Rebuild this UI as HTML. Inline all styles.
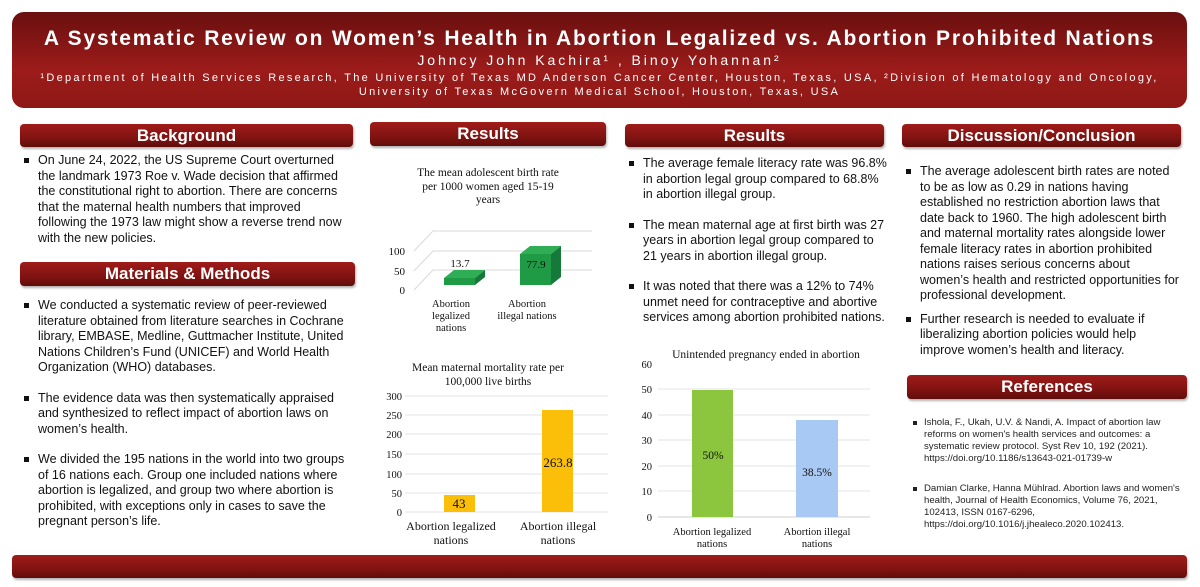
<!DOCTYPE html>
<html><head><meta charset="utf-8"><style>
*{margin:0;padding:0;box-sizing:border-box}
body{width:1200px;height:587px;background:#fff;position:relative;overflow:hidden;font-family:"Liberation Sans",sans-serif;color:#111}
.hdr{position:absolute;left:12px;top:12px;width:1175px;height:96px;border-radius:12px;background:linear-gradient(#6a0f0f,#9c1c1a 60%,#8e1816);color:#fff;text-align:center}
.bar{position:absolute;border-radius:4px;background:linear-gradient(#a01c1a,#7a1210 70%,#5e0c0a);color:#fff;font-weight:bold;font-size:17px;text-align:center;line-height:23px;box-shadow:1px 2px 2px rgba(0,0,0,.3)}
.txt{position:absolute;font-size:12.5px;line-height:15.5px}
.txt p{position:relative;padding-left:0}
.txt p:before{content:"";position:absolute;left:-14px;top:5px;width:5px;height:5px;background:#111}
.ref{position:absolute;font-size:9.6px;line-height:12px;color:#222}
.ref p{position:relative}
.ref p:before{content:"";position:absolute;left:-11px;top:4px;width:4px;height:4px;background:#222}
svg text{font-family:"Liberation Serif",serif;fill:#111}
</style></head><body>
<div class="hdr">
<div style="position:absolute;top:15px;width:100%;font-size:21px;font-weight:bold;letter-spacing:1.8px">A Systematic Review on Women’s Health in Abortion Legalized vs. Abortion Prohibited Nations</div>
<div style="position:absolute;top:40px;width:100%;font-size:14px;letter-spacing:2.95px">Johncy John Kachira¹ , Binoy Yohannan²</div>
<div style="position:absolute;top:59px;width:100%;font-size:11px;letter-spacing:2.3px;line-height:14px">¹Department of Health Services Research, The University of Texas MD Anderson Cancer Center, Houston, Texas, USA, ²Division of Hematology and Oncology,<br>University of Texas McGovern Medical School, Houston, Texas, USA</div>
</div>

<div class="bar" style="left:20px;top:124px;width:333px;height:23px">Background</div>
<div class="bar" style="left:370px;top:122px;width:236px;height:24px">Results</div>
<div class="bar" style="left:625px;top:124px;width:259px;height:23px">Results</div>
<div class="bar" style="left:902px;top:124px;width:279px;height:23px">Discussion/Conclusion</div>
<div class="bar" style="left:20px;top:262px;width:335px;height:24px">Materials &amp; Methods</div>
<div class="bar" style="left:907px;top:375px;width:280px;height:24px">References</div>
<div class="bar" style="left:12px;top:555px;width:1175px;height:23px"></div>

<div class="txt" style="left:38px;top:153px;width:310px">
<p>On June 24, 2022, the US Supreme Court overturned the landmark 1973 Roe v. Wade decision that affirmed the constitutional right to abortion. There are concerns that the maternal health numbers that improved following the 1973 law might show a reverse trend now with the new policies.</p></div>

<div class="txt" style="left:38px;top:298px;width:320px">
<p>We conducted a systematic review of peer-reviewed literature obtained from literature searches in Cochrane library, EMBASE, Medline, Guttmacher Institute, United Nations Children’s Fund (UNICEF) and World Health Organization (WHO) databases.</p>
<p style="margin-top:15px">The evidence data was then systematically appraised and synthesized to reflect impact of abortion laws on women’s health.</p>
<p style="margin-top:15px">We divided the 195 nations in the world into two groups of 16 nations each. Group one included nations where abortion is legalized, and group two where abortion is prohibited, with exceptions only in cases to save the pregnant person’s life.</p></div>

<div class="txt" style="left:643px;top:156px;width:260px;white-space:nowrap">
<p>The average female literacy rate was 96.8%<br>in abortion legal group compared to 68.8%<br>in abortion illegal group.</p>
<p style="margin-top:15px">The mean maternal age at first birth was 27<br>years in abortion legal group compared to<br>21 years in abortion illegal group.</p>
<p style="margin-top:15px">It was noted that there was a 12% to 74%<br>unmet need for contraceptive and abortive<br>services among abortion prohibited nations.</p></div>

<div class="txt" style="left:920px;top:164px;width:262px">
<p>The average adolescent birth rates are noted to be as low as 0.29 in nations having established no restriction abortion laws that date back to 1960. The high adolescent birth and maternal mortality rates alongside lower female literacy rates in abortion prohibited nations raises serious concerns about women’s health and restricted opportunities for professional development.</p>
<p style="margin-top:8px">Further research is needed to evaluate if liberalizing abortion policies would help improve women’s health and literacy.</p></div>

<div class="ref" style="left:924px;top:417px;width:262px">
<p>Ishola, F., Ukah, U.V. &amp; Nandi, A. Impact of abortion law reforms on women's health services and outcomes: a systematic review protocol. Syst Rev 10, 192 (2021). https://doi.org/10.1186/s13643-021-01739-w</p>
<p style="margin-top:18px">Damian Clarke, Hanna Mühlrad. Abortion laws and women's health, Journal of Health Economics, Volume 76, 2021, 102413, ISSN 0167-6296, https://doi.org/10.1016/j.jhealeco.2020.102413.</p></div>

<svg width="1200" height="587" style="position:absolute;left:0;top:0" font-size="11">
<g text-anchor="middle" font-size="11.5"><text x="488" y="176">The mean adolescent birth rate</text><text x="488" y="190">per 1000 women aged 15-19</text><text x="488" y="203">years</text></g>
<g stroke="#d9d9d9" fill="none"><path d="M414 251 L433 231 L592 231"/><path d="M414 271 L433 251 L592 251"/><path d="M414 290 L433 270 L592 270"/></g>
<g text-anchor="end"><text x="405" y="255">100</text><text x="405" y="275">50</text><text x="405" y="294">0</text></g>
<polygon points="444,278 475,278 485,270 454,270" fill="#2fae55"/><rect x="444" y="278" width="31" height="7" fill="#1f9a45"/><polygon points="475,278 485,270 485,277 475,285" fill="#15793a"/>
<polygon points="520,254 551,254 561,246 530,246" fill="#2fae55"/><rect x="520" y="254" width="31" height="31" fill="#1f9a45"/><polygon points="551,254 561,246 561,277 551,285" fill="#15793a"/>
<text x="460" y="267" text-anchor="middle">13.7</text><text x="536" y="268" text-anchor="middle">77.9</text>
<g text-anchor="middle" font-size="10.5"><text x="451" y="307">Abortion</text><text x="451" y="319">legalized</text><text x="451" y="331">nations</text><text x="527" y="307">Abortion</text><text x="527" y="319">illegal nations</text></g>
<g text-anchor="middle" font-size="11.5"><text x="488" y="371">Mean maternal mortality rate per</text><text x="488" y="385">100,000 live births</text></g>
<g stroke="#e3e3e3"><line x1="405" y1="396" x2="608" y2="396"/><line x1="405" y1="415" x2="608" y2="415"/><line x1="405" y1="434" x2="608" y2="434"/><line x1="405" y1="454" x2="608" y2="454"/><line x1="405" y1="474" x2="608" y2="474"/><line x1="405" y1="493" x2="608" y2="493"/><line x1="405" y1="512" x2="608" y2="512"/></g>
<g text-anchor="end" font-size="10.5"><text x="402" y="400">300</text><text x="402" y="419">250</text><text x="402" y="438">200</text><text x="402" y="458">150</text><text x="402" y="478">100</text><text x="402" y="497">50</text><text x="402" y="516">0</text></g>
<rect x="444" y="495" width="31" height="17" fill="#fbbf0a"/><rect x="542" y="410" width="31" height="102" fill="#fbbf0a"/>
<g text-anchor="middle" font-size="13"><text x="459" y="508">43</text><text x="558" y="467">263.8</text></g>
<g text-anchor="middle" font-size="12"><text x="451" y="530">Abortion legalized</text><text x="451" y="544">nations</text><text x="558" y="530">Abortion illegal</text><text x="558" y="544">nations</text></g>
<text x="766" y="358" text-anchor="middle" font-size="11.5">Unintended pregnancy ended in abortion</text>
<g stroke="#e3e3e3"><line x1="658" y1="389" x2="870" y2="389"/><line x1="658" y1="415" x2="870" y2="415"/><line x1="658" y1="440" x2="870" y2="440"/><line x1="658" y1="466" x2="870" y2="466"/><line x1="658" y1="491" x2="870" y2="491"/></g>
<line x1="658" y1="517" x2="870" y2="517" stroke="#cfcfcf"/>
<g text-anchor="end" font-size="10.5"><text x="652" y="368">60</text><text x="652" y="393">50</text><text x="652" y="419">40</text><text x="652" y="444">30</text><text x="652" y="470">20</text><text x="652" y="495">10</text><text x="652" y="521">0</text></g>
<rect x="692" y="390" width="41" height="127" fill="#8cc63f"/><rect x="796" y="420" width="42" height="97" fill="#a9c9f5"/>
<g text-anchor="middle" font-size="11.5"><text x="713" y="459">50%</text><text x="817" y="476">38.5%</text></g>
<g text-anchor="middle" font-size="10.5"><text x="712" y="535">Abortion legalized</text><text x="712" y="547">nations</text><text x="817" y="535">Abortion illegal</text><text x="817" y="547">nations</text></g>
</svg>
</body></html>
